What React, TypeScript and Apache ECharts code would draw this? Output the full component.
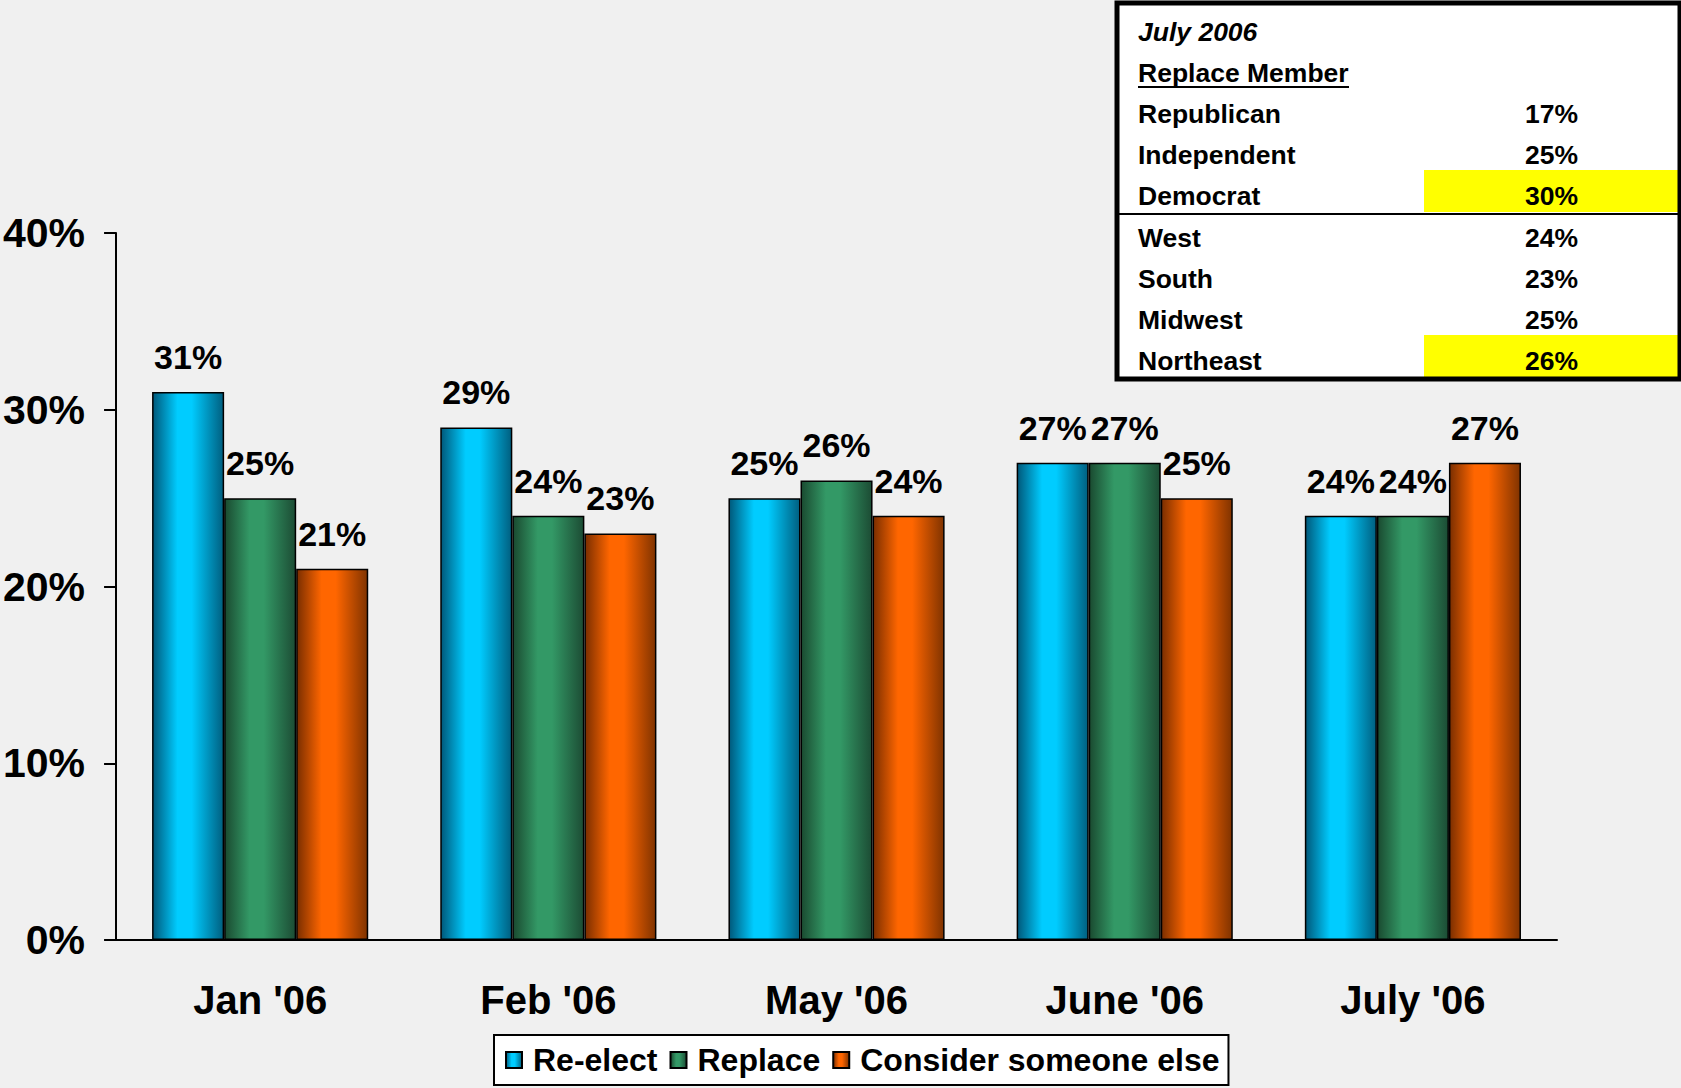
import React, { useEffect, useRef } from "react";
import * as echarts from "echarts";

const categories = ["Jan '06", "Feb '06", "May '06", "June '06", "July '06"];
const seriesNames = ["Re-elect", "Replace", "Consider someone else"];
const reelect = [31, 29, 25, 27, 24];
const replace = [25, 24, 26, 27, 24];
const considerElse = [21, 23, 24, 25, 27];
const yTicks = [0, 10, 20, 30, 40];

const tableTitle = "July 2006";
const tableSubtitle = "Replace Member";
const tableRows = ["Republican", "Independent", "Democrat", "West", "South", "Midwest", "Northeast"];
const tableValues = ["17%", "25%", "30%", "24%", "23%", "25%", "26%"];
const highlightedRows = [2, 6];

const FONT = "'Liberation Sans', Arial, Helvetica, sans-serif";

function grad(edgeL: string, mid: string, edgeR: string) {
  return new echarts.graphic.LinearGradient(0, 0, 1, 0, [
    { offset: 0, color: edgeL },
    { offset: 0.35, color: mid },
    { offset: 0.55, color: mid },
    { offset: 1, color: edgeR },
  ]);
}

export default function App() {
  const ref = useRef<HTMLDivElement>(null);
  useEffect(() => {
    if (!ref.current) return;
    const chart = echarts.init(ref.current, null, { renderer: "svg" });
    const colors = [
      grad("#00587a", "#00ccff", "#005f80"),
      grad("#1a4a30", "#339966", "#1c4c34"),
      grad("#7a2e00", "#ff6600", "#803300"),
    ];
    const datasets = [reelect, replace, considerElse];

    // table graphic
    const boxX = 1117, boxY = 3, boxW = 563, boxH = 376;
    const textX = 1138;
    const valX = 1578;
    const rowY = [114, 155, 196, 238, 279, 320, 361];
    const graphics: any[] = [
      { type: "rect", shape: { x: boxX, y: boxY, width: boxW, height: boxH }, style: { fill: "#ffffff", stroke: "none" }, z: 10 },
    ];
    highlightedRows.forEach((r) => {
      graphics.push({
        type: "rect",
        shape: { x: 1424, y: rowY[r] - 26, width: boxX + boxW - 1424, height: 42 },
        style: { fill: "#ffff00" },
        z: 11,
      });
    });
    graphics.push({
      type: "line",
      shape: { x1: boxX, y1: 214, x2: boxX + boxW, y2: 214 },
      style: { stroke: "#000000", lineWidth: 2 },
      z: 12,
    });
    graphics.push({
      type: "text",
      x: textX,
      y: 32,
      style: { text: tableTitle, font: `italic bold 26.5px ${FONT}`, fill: "#000", verticalAlign: "middle", align: "left" },
      z: 13,
    });
    graphics.push({
      type: "text",
      x: textX,
      y: 73,
      style: { text: tableSubtitle, font: `bold 26.5px ${FONT}`, fill: "#000", verticalAlign: "middle", align: "left" },
      z: 13,
    });
    graphics.push({
      type: "line",
      shape: { x1: textX, y1: 87, x2: 1349, y2: 87 },
      style: { stroke: "#000", lineWidth: 2 },
      z: 13,
    });
    tableRows.forEach((name, i) => {
      graphics.push({
        type: "text",
        x: textX,
        y: rowY[i],
        style: { text: name, font: `bold 26.5px ${FONT}`, fill: "#000", verticalAlign: "middle", align: "left" },
        z: 13,
      });
      graphics.push({
        type: "text",
        x: valX,
        y: rowY[i],
        style: { text: tableValues[i], font: `bold 26.5px ${FONT}`, fill: "#000", verticalAlign: "middle", align: "right" },
        z: 13,
      });
    });
    graphics.push({
      type: "rect",
      shape: { x: boxX, y: boxY, width: boxW, height: boxH },
      style: { fill: "none", stroke: "#000000", lineWidth: 5 },
      z: 14,
    });

    chart.setOption({
      animation: false,
      backgroundColor: "#f0f0f0",
      grid: { left: 116, right: 124, top: 233, bottom: 148, containLabel: false },
      legend: {
        data: seriesNames,
        left: 494,
        top: 1035,
        padding: [9, 9, 9, 11],
        itemGap: 12,
        itemWidth: 16,
        itemHeight: 16,
        icon: "rect",
        backgroundColor: "#ffffff",
        borderColor: "#000000",
        borderWidth: 2,
        borderRadius: 0,
        textStyle: { fontFamily: FONT, fontWeight: "bold", fontSize: 32, color: "#000", padding: [0, 0, 0, 6] },
      },
      xAxis: {
        type: "category",
        data: categories,
        axisLine: { lineStyle: { color: "#000", width: 2 } },
        axisTick: { show: false },
        axisLabel: { fontFamily: FONT, fontWeight: "bold", fontSize: 40, color: "#000", margin: 40 },
      },
      yAxis: {
        type: "value",
        min: yTicks[0],
        max: yTicks[yTicks.length - 1],
        interval: 10,
        axisLine: { show: true, lineStyle: { color: "#000", width: 2 } },
        axisTick: { show: true, length: 12, lineStyle: { color: "#000", width: 2 } },
        splitLine: { show: false },
        axisLabel: { formatter: "{value}%", fontFamily: FONT, fontWeight: "bold", fontSize: 41, color: "#000", margin: 31 },
      },
      series: seriesNames.map((name, i) => ({
        name,
        type: "bar",
        data: datasets[i],
        barGap: "0%",
        barCategoryGap: "25%",
        itemStyle: { color: colors[i], borderColor: "#000", borderWidth: 1.5 },
        label: {
          show: true,
          position: "top",
          distance: 18,
          formatter: "{c}%",
          fontFamily: FONT,
          fontWeight: "bold",
          fontSize: 34,
          color: "#000",
        },
      })),
      graphic: graphics,
    });
    return () => chart.dispose();
  }, []);
  return <div ref={ref} style={{ position: "fixed", left: 0, top: 0, width: 1681, height: 1088 }} />;
}
